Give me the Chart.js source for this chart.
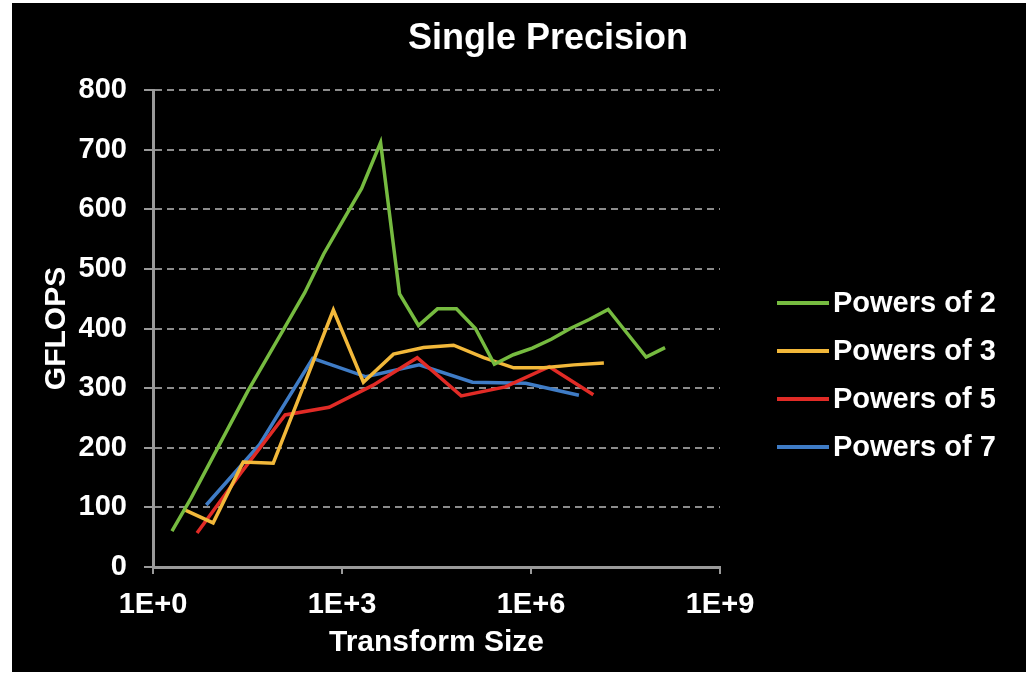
<!DOCTYPE html>
<html>
<head>
<meta charset="utf-8">
<title>Single Precision</title>
<script src="https://cdn.jsdelivr.net/npm/chart.js@4"></script>
<style>
    body { margin: 0; background: #fff; }
    #wrap { position: absolute; left: 12px; top: 3px; width: 1014px; height: 669px; background: #000; }
    canvas { display: block; }
</style>
</head>
<body>
<div id="wrap"><canvas id="fftChart" width="1014" height="669"></canvas></div>
<script>
// transform sizes (x) and GFLOPS (y)
const pow2Sizes = [2, 4, 8, 16, 32, 64, 128, 256, 512, 1024, 2048, 4096, 8192, 16384, 32768, 65536,
    131072, 262144, 524288, 1048576, 2097152, 4194304, 8388608, 16777216, 33554432, 67108864, 134217728];
const pow2Gflops = [60, 115, 175, 235, 295, 350, 405, 460, 525, 580, 635, 712, 458, 405, 433, 433,
    400, 340, 356, 367, 382, 400, 415, 432, 392, 352, 368];

const pow3Sizes = [3, 9, 27, 81, 243, 729, 2187, 6561, 19683, 59049, 177147, 531441, 1594323, 4782969, 14348907];
const pow3Gflops = [97, 74, 176, 174, 302, 431, 310, 357, 368, 372, 351, 334, 334, 339, 342];

const pow5Sizes = [5, 25, 125, 625, 3125, 15625, 78125, 390625, 1953125, 9765625];
const pow5Gflops = [57, 158, 255, 268, 305, 351, 287, 302, 336, 289];

const pow7Sizes = [7, 49, 343, 2401, 16807, 117649, 823543, 5764801];
const pow7Gflops = [104, 205, 350, 319, 339, 310, 308, 288];

const xTickValues = [1, 1e3, 1e6, 1e9];
const xTickLabels = ['1E+0', '1E+3', '1E+6', '1E+9'];

const FONT = '"Liberation Sans", Arial, Helvetica, sans-serif';

function toPoints(sizes, vals) {
    return sizes.map((s, i) => ({ x: s, y: vals[i] }));
}

function makeSet(label, sizes, vals, color) {
    return {
        label: label,
        data: toPoints(sizes, vals),
        borderColor: color,
        backgroundColor: color,
        borderWidth: 3.5,
        pointRadius: 0,
        tension: 0
    };
}

// title and legend are placed by hand to match the slide
const slideText = {
    id: 'slideText',
    afterDraw(chart) {
        const ctx = chart.ctx;
        ctx.save();
        ctx.fillStyle = '#fff';
        ctx.textBaseline = 'middle';
        ctx.font = 'bold 36px ' + FONT;
        ctx.textAlign = 'center';
        ctx.fillText('Single Precision', 536, 36);

        ctx.font = 'bold 29px ' + FONT;
        ctx.textAlign = 'left';
        chart.data.datasets.forEach((ds, i) => {
            const y = 300 + i * 48;
            ctx.strokeStyle = ds.borderColor;
            ctx.lineWidth = 4;
            ctx.beginPath();
            ctx.moveTo(765, y);
            ctx.lineTo(817, y);
            ctx.stroke();
            ctx.fillText(ds.label, 821, y + 1);
        });
        ctx.restore();
    }
};

new Chart(document.getElementById('fftChart').getContext('2d'), {
    type: 'line',
    data: {
        datasets: [
            makeSet('Powers of 2', pow2Sizes, pow2Gflops, '#76bb40'),
            makeSet('Powers of 3', pow3Sizes, pow3Gflops, '#f2b83a'),
            makeSet('Powers of 5', pow5Sizes, pow5Gflops, '#e12b26'),
            makeSet('Powers of 7', pow7Sizes, pow7Gflops, '#3f7cc6')
        ]
    },
    options: {
        responsive: false,
        animation: false,
        layout: { padding: { left: 0, top: 87, right: 306, bottom: 0 } },
        plugins: {
            legend: { display: false },
            title: { display: false },
            tooltip: { enabled: false }
        },
        scales: {
            x: {
                type: 'logarithmic',
                min: 1,
                max: 1e9,
                afterBuildTicks: (scale) => {
                    scale.ticks = xTickValues.map(v => ({ value: v }));
                },
                afterFit: (scale) => { scale.height = 105; },
                ticks: {
                    color: '#fff',
                    font: { family: FONT, size: 29, weight: 'bold' },
                    padding: 14,
                    maxRotation: 0,
                    autoSkip: false,
                    callback: (value, index) => xTickLabels[index]
                },
                grid: {
                    drawOnChartArea: false,
                    drawTicks: true,
                    tickLength: 7,
                    color: '#9a9a9a',
                    lineWidth: 2
                },
                border: { color: '#9a9a9a', width: 3 },
                title: {
                    display: true,
                    text: 'Transform Size',
                    color: '#fff',
                    font: { family: FONT, size: 30, weight: 'bold' },
                    padding: { top: 0, bottom: 11 }
                }
            },
            y: {
                min: 0,
                max: 800,
                afterFit: (scale) => { scale.width = 141; },
                ticks: {
                    stepSize: 100,
                    color: '#fff',
                    font: { family: FONT, size: 29, weight: 'bold' },
                    padding: 17
                },
                grid: {
                    color: '#8c8c8c',
                    lineWidth: 2,
                    tickLength: 9,
                    tickColor: '#9a9a9a'
                },
                border: { color: '#9a9a9a', width: 3, dash: [7, 5] },
                title: {
                    display: true,
                    text: 'GFLOPS',
                    color: '#fff',
                    font: { family: FONT, size: 30, weight: 'bold' },
                    padding: { top: 27, bottom: 0 }
                }
            }
        }
    },
    plugins: [slideText]
});
</script>
</body>
</html>
